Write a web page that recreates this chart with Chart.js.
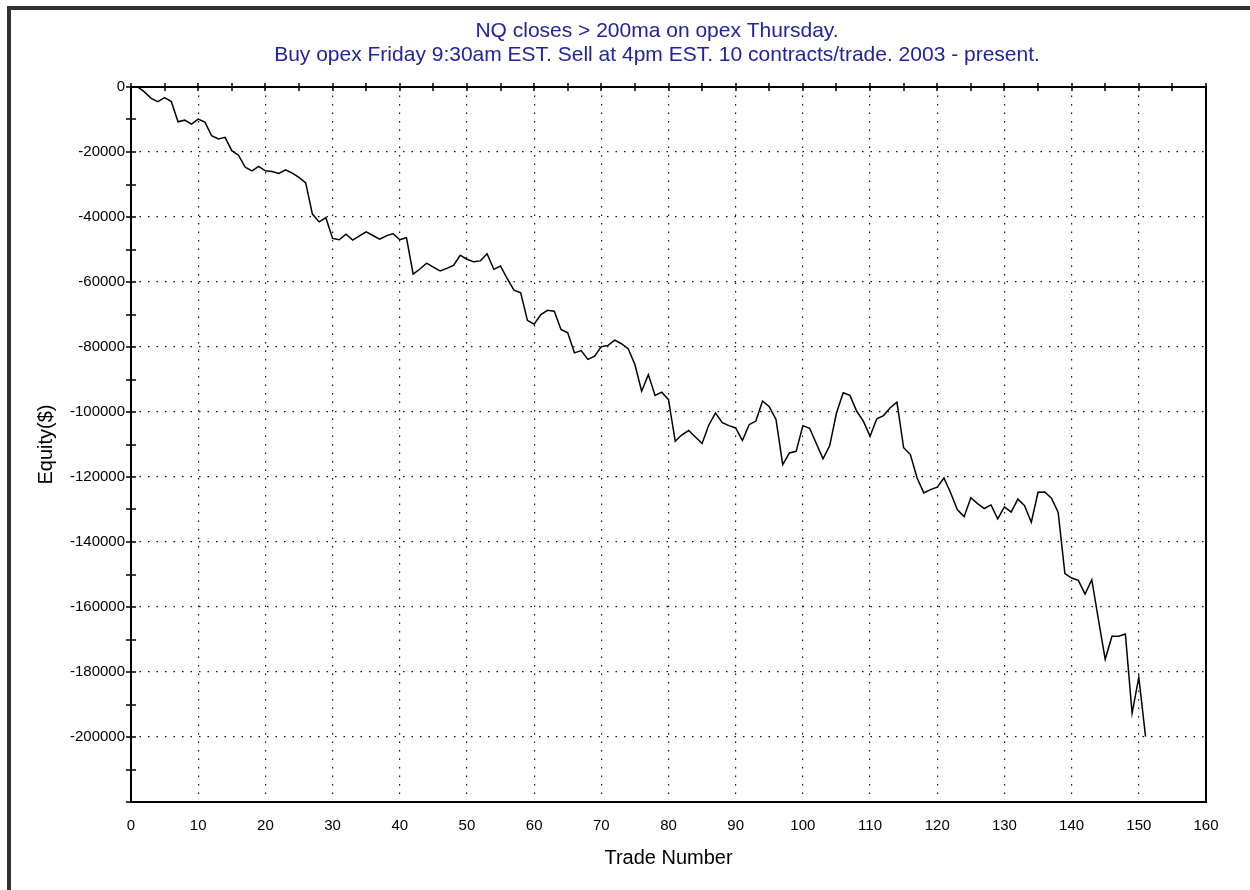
<!DOCTYPE html>
<html>
<head>
<meta charset="utf-8">
<script src="https://cdn.jsdelivr.net/npm/chart.js@4/dist/chart.umd.min.js"></script>
<style>
  html, body { margin: 0; padding: 0; background: #fff; }
  #wrap { width: 1250px; height: 890px; position: relative; }
</style>
</head>
<body>
<div id="wrap"><canvas id="equity-chart" width="1250" height="890"></canvas></div>
<script>
const titleLines = [
    "NQ closes > 200ma on opex Thursday.",
    "Buy opex Friday 9:30am EST. Sell at 4pm EST. 10 contracts/trade. 2003 - present."
];
const xTitle = "Trade Number";
const yTitle = "Equity($)";

// trade numbers start at 1, one equity value per trade
const firstTrade = 1;
const equity = [
    0, -1500, -3500, -4500, -3300, -4500, -10700, -10200, -11400, -9900,
    -10800, -15000, -16000, -15500, -19600, -21000, -24700, -25800, -24400, -25800,
    -26000, -26600, -25500, -26500, -27800, -29500, -39100, -41500, -40200, -46600,
    -47000, -45300, -47100, -45800, -44600, -45700, -46800, -45800, -45100, -47000,
    -46400, -57600, -56000, -54200, -55400, -56600, -55800, -54900, -51800, -53000,
    -53800, -53500, -51300, -56100, -55100, -59000, -62500, -63300, -71800, -73000,
    -70000, -68700, -69000, -74600, -75600, -81800, -81100, -83800, -82800, -79900,
    -79500, -77900, -79000, -80500, -85400, -93600, -88500, -94900, -93900, -96200,
    -109000, -107000, -105700, -107700, -109700, -104000, -100300, -103300, -104200, -104900,
    -108800, -103900, -102800, -96600, -98400, -102300, -116200, -112600, -112100, -104200,
    -105000, -109700, -114400, -110300, -100300, -94100, -94900, -99700, -102800, -107500,
    -102100, -101100, -98700, -97000, -111000, -113100, -120300, -124900, -123900, -123100,
    -120300, -124900, -130100, -132200, -126400, -128200, -129700, -128600, -132900, -129200,
    -130800, -126800, -128800, -133900, -124700, -124600, -126500, -130900, -149700, -151100,
    -151800, -156000, -151600, -164000, -176100, -169000, -169000, -168300, -192700, -181600,
    -199900
];

const xMin = 0, xMax = 160, xStep = 10, xMinorStep = 5;
const yMin = -220000, yMax = 0, yStep = 20000, yMinorStep = 10000;

const points = equity.map((v, i) => ({ x: firstTrade + i, y: v }));

const framePlugin = {
    id: 'frame',
    beforeDraw(chart) {
        const ctx = chart.ctx;
        ctx.save();
        ctx.fillStyle = '#fff';
        ctx.fillRect(0, 0, chart.width, chart.height);
        ctx.fillStyle = '#303030';
        ctx.fillRect(7, 6, chart.width - 7, 4);
        ctx.fillRect(7, 6, 4, chart.height - 6);
        ctx.fillStyle = '#2222a0';
        ctx.font = '21px "Liberation Sans", Arial, sans-serif';
        ctx.textAlign = 'center';
        ctx.textBaseline = 'middle';
        titleLines.forEach((line, i) => ctx.fillText(line, 657, 31 + i * 24));
        ctx.restore();
    },
    afterDraw(chart) {
        const { ctx, chartArea: a, scales } = chart;
        ctx.save();
        ctx.strokeStyle = '#000';
        ctx.lineWidth = 2;
        ctx.strokeRect(a.left, a.top, a.right - a.left, a.bottom - a.top);
        ctx.lineWidth = 1.5;
        ctx.beginPath();
        scales.y.ticks.forEach(t => {
            const y = Math.round(scales.y.getPixelForValue(t.value));
            ctx.moveTo(a.left - 5, y);
            ctx.lineTo(a.left + 5, y);
        });
        for (let v = xMin; v <= xMax; v += xMinorStep) {
            const x = Math.round(scales.x.getPixelForValue(v));
            ctx.moveTo(x, a.top - 4);
            ctx.lineTo(x, a.top + 4);
        }
        ctx.stroke();
        ctx.restore();
    }
};

const tickFont = { family: '"Liberation Sans", Arial, sans-serif', size: 15 };
const titleFont = { family: '"Liberation Sans", Arial, sans-serif', size: 20 };

new Chart(document.getElementById('equity-chart'), {
    type: 'line',
    data: {
        datasets: [{
            data: points,
            borderColor: '#000',
            borderWidth: 1.5,
            pointRadius: 0,
            tension: 0,
            fill: false
        }]
    },
    options: {
        responsive: false,
        animation: false,
        layout: { padding: { top: 87, right: 44, bottom: 0, left: 0 } },
        plugins: {
            legend: { display: false },
            tooltip: { enabled: false }
        },
        scales: {
            x: {
                type: 'linear',
                min: xMin,
                max: xMax,
                afterFit: scale => { scale.height = 88; },
                ticks: { stepSize: xStep, color: '#000', font: tickFont, padding: 15, maxRotation: 0 },
                grid: { color: '#111', lineWidth: 1.2, drawTicks: false },
                border: { display: false, dash: [1.5, 7] },
                title: { display: true, text: xTitle, color: '#000', font: titleFont, padding: { top: 0, bottom: 20 } }
            },
            y: {
                type: 'linear',
                min: yMin,
                max: yMax,
                afterFit: scale => { scale.width = 131; },
                ticks: {
                    stepSize: yMinorStep,
                    color: '#000',
                    font: tickFont,
                    padding: 6,
                    autoSkip: false,
                    callback: v => (v % yStep === 0 && v !== yMin) ? String(v) : ''
                },
                grid: {
                    color: c => (c.tick && c.tick.value % yStep === 0) ? '#111' : 'rgba(0,0,0,0)',
                    lineWidth: 1.2,
                    drawTicks: false
                },
                border: { display: false, dash: [1.5, 7] },
                title: { display: true, text: yTitle, color: '#000', font: titleFont, padding: { top: 34, bottom: 0 } }
            }
        }
    },
    plugins: [framePlugin]
});
</script>
</body>
</html>
